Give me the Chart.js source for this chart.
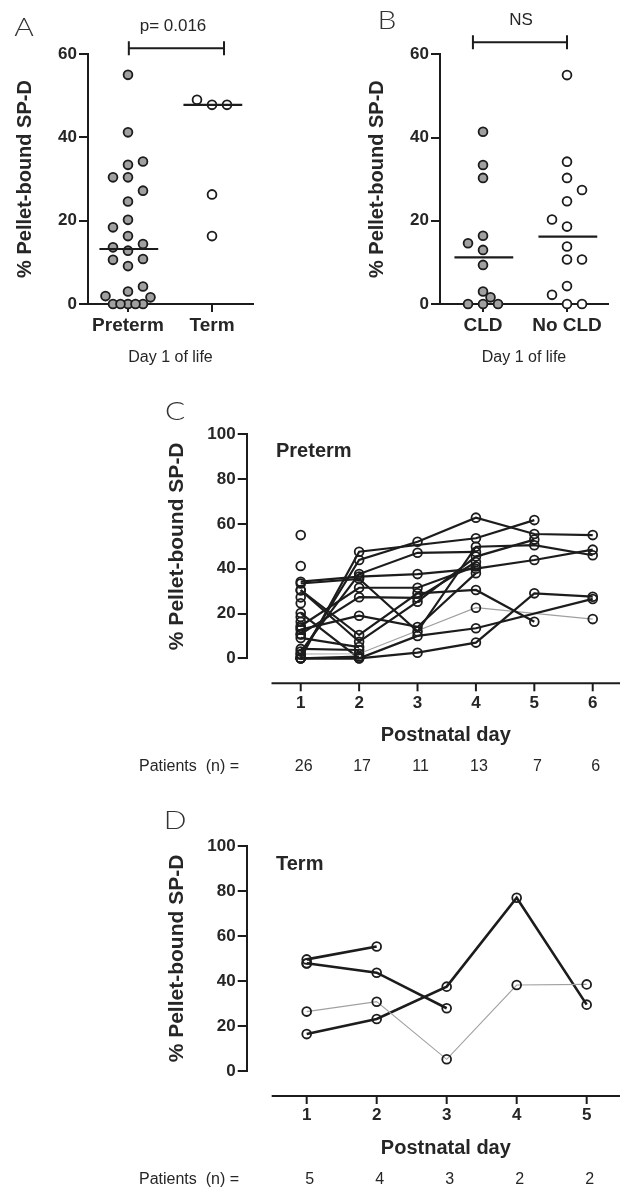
<!DOCTYPE html>
<html>
<head>
<meta charset="utf-8">
<script src="https://cdn.jsdelivr.net/npm/chart.js@4.4.1/dist/chart.umd.min.js"></script>
<style>
html,body{margin:0;padding:0;background:#fff;}
body{width:620px;height:1191px;position:relative;overflow:hidden;font-family:"Liberation Sans",Arial,Helvetica,sans-serif;color:#262626;}
canvas{position:absolute;}
.c{position:absolute;white-space:nowrap;line-height:1;transform:translate(-50%,-50%);}
.l{position:absolute;white-space:nowrap;line-height:1;transform:translate(0,-50%);}
.letter{font-family:Lato,"Open Sans","DejaVu Sans",sans-serif;font-weight:300;font-size:26px;color:#333;transform:translate(-50%,-50%) scaleX(1.15);}
.ann{font-size:17px;}
.inplot{font-weight:bold;font-size:20px;}
</style>
</head>
<body>
<canvas id="cA" width="310" height="380" style="left:0;top:0;width:310px;height:380px"></canvas>
<canvas id="cB" width="310" height="380" style="left:310px;top:0;width:310px;height:380px"></canvas>
<canvas id="cC" width="620" height="420" style="left:0;top:380px;width:620px;height:420px"></canvas>
<canvas id="cD" width="620" height="391" style="left:0;top:800px;width:620px;height:391px"></canvas>

<div class="c letter" style="left:24px;top:26px">A</div>
<div class="c letter" style="left:387px;top:19px">B</div>
<div class="c letter" style="left:175px;top:410px">C</div>
<div class="c letter" style="left:175px;top:819px">D</div>
<div class="c ann" style="left:173px;top:25px">p= 0.016</div>
<div class="c ann" style="left:521px;top:19px">NS</div>
<div class="l inplot" style="left:276px;top:450px">Preterm</div>
<div class="l inplot" style="left:276px;top:863px">Term</div>

<script>
// ---------------- DATA ----------------
const groupsA = ['Preterm', 'Term'];
const pretermDay1 = [55.0, 41.2, 34.2, 33.4, 30.4, 30.4, 27.2, 24.6, 20.2, 18.4, 16.3, 14.4, 13.6, 12.8, 10.8, 10.6, 9.1, 4.2, 3.0, 1.9, 1.6, 0, 0, 0, 0, 0];
const termDay1 = [49.0, 47.8, 47.8, 26.3, 16.3];

const groupsB = ['CLD', 'No CLD'];
const cldDay1 = [41.4, 33.4, 30.3, 16.4, 14.6, 13.0, 9.4, 3.0, 1.6, 0, 0, 0];
const noCldDay1 = [55.0, 34.2, 30.3, 27.4, 24.7, 20.3, 18.6, 13.8, 10.7, 10.7, 4.3, 2.2, 0, 0];

const yTicksAB = [0, 20, 40, 60];
const yTicksCD = [0, 20, 40, 60, 80, 100];

const pretermDays = [1, 2, 3, 4, 5, 6];
// one row per preterm patient, values for postnatal days 1..6 (null = not measured)
const pretermPatients = [
  [55.0, null, null, null, null, null],
  [41.2, null, null, null, null, null],
  [34.2, 36.5, 37.6, 40.0, 43.9, 48.5],
  [33.4, 35.5, 12.0, 49.8, 50.5, 46.0],
  [30.4, 7.4, 25.3, 45.4, 53.0, null],
  [30.4, 10.4, 29.0, 30.5, 16.3, null],
  [0, 47.6, null, 53.6, 61.7, null],
  [1.6, 43.9, 52.0, 62.8, 55.5, 55.0],
  [3.0, 37.6, 47.1, 47.5, null, null],
  [14.4, 31.5, 31.5, 41.0, null, null],
  [10.8, 27.3, 27.0, 43.0, null, null],
  [12.8, 19.0, 14.0, 38.0, null, null],
  [0, 0, 2.5, 7.0, 29.0, 27.5],
  [0, 0, 10.0, 13.4, null, 26.5],
  [0, 0.8, null, null, null, null],
  [1.9, 2.0, null, 22.6, null, 17.5],
  [4.2, 3.7, null, null, null, null],
  [9.1, 5.0, null, null, null, null],
  [20.2, 0, null, null, null, null],
  [27.2, null, null, null, null, null],
  [24.6, null, null, null, null, null],
  [18.4, null, null, null, null, null],
  [16.3, null, null, null, null, null],
  [13.6, null, null, null, null, null],
  [10.6, null, null, null, null, null],
  [0, null, null, null, null, null]
];
const pretermThinLines = [15];

const termDays = [1, 2, 3, 4, 5];
const termPatients = [
  [49.6, 55.3, null, null, null],
  [47.9, 43.7, 27.9, null, null],
  [47.8, null, null, null, null],
  [26.4, 30.8, 5.2, 38.2, 38.5],
  [16.4, 23.1, 37.5, 77.0, 29.5]
];
const termThinLines = [3];

// ---------------- STYLE / HELPERS ----------------
const INK = '#1c1c1c';
const TXT = '#262626';
const FONT = '"Liberation Sans", Arial, Helvetica, sans-serif';
Chart.defaults.font.family = FONT;
Chart.defaults.color = TXT;

function median(a) {
  const s = [...a].sort((p, q) => p - q);
  const n = s.length;
  return n % 2 ? s[(n - 1) / 2] : (s[n / 2 - 1] + s[n / 2]) / 2;
}

// simple deterministic beeswarm: columns of 7.5px, points in a column need >=12px vertical gap
function swarm(values, center, pxX, pxY) {
  const SLOT = 7.5, GAP = 12;
  const idx = values.map((v, i) => i).sort((a, b) => values[a] - values[b]);
  const placed = [];
  const out = new Array(values.length);
  let nR = 0, nL = 0;
  idx.forEach(i => {
    const v = values[i];
    const free = s => !placed.some(p => p.s === s && Math.abs(p.v - v) * pxY < GAP);
    let chosen = 0;
    const mags = [0, 2, 1, 3, 4, 5, 6, 7, 8];
    for (const m of mags) {
      if (m === 0) { if (free(0)) { chosen = 0; break; } continue; }
      const first = nR <= nL ? m : -m;
      if (free(first)) { chosen = first; break; }
      if (free(-first)) { chosen = -first; break; }
    }
    if (chosen > 0) nR++; else if (chosen < 0) nL++;
    placed.push({ s: chosen, v });
    out[i] = { x: center + chosen * SLOT / pxX, y: v };
  });
  return out;
}

const bracketPlugin = {
  id: 'bracket',
  afterDraw(chart, args, o) {
    if (!o || o.from === undefined) return;
    const { ctx, scales: { x, y } } = chart;
    const x0 = x.getPixelForValue(o.from), x1 = x.getPixelForValue(o.to), yy = y.getPixelForValue(o.at);
    ctx.save();
    ctx.strokeStyle = INK; ctx.lineWidth = 2;
    ctx.beginPath();
    ctx.moveTo(x0, yy); ctx.lineTo(x1, yy);
    ctx.moveTo(x0, yy - 7); ctx.lineTo(x0, yy + 7);
    ctx.moveTo(x1, yy - 7); ctx.lineTo(x1, yy + 7);
    ctx.stroke();
    ctx.restore();
  }
};

const offsetAxisPlugin = {
  id: 'offsetAxis',
  afterDraw(chart, args, o) {
    if (!o || o.gap === undefined) return;
    const { ctx, chartArea, scales: { x, y } } = chart;
    const ya = y.getPixelForValue(0) + o.gap;
    const xs = x.getPixelForValue(o.from);
    ctx.save();
    ctx.strokeStyle = INK; ctx.lineWidth = 2;
    ctx.beginPath(); ctx.moveTo(xs, ya); ctx.lineTo(chartArea.right, ya); ctx.stroke();
    x.ticks.forEach(t => {
      const px = x.getPixelForValue(t.value);
      ctx.beginPath(); ctx.moveTo(px, ya); ctx.lineTo(px, ya + 8); ctx.stroke();
    });
    ctx.fillStyle = TXT;
    ctx.textBaseline = 'middle';
    ctx.textAlign = 'center';
    ctx.font = 'bold 20px ' + FONT;
    ctx.fillText('Postnatal day', (xs + chartArea.right) / 2, ya + 52);
    ctx.font = '16px ' + FONT;
    ctx.textAlign = 'left';
    ctx.fillText('Patients  (n) =', 139, ya + 83.5);
    ctx.textAlign = 'center';
    o.counts.forEach((n, i) => ctx.fillText(String(n), x.getPixelForValue(o.days[i]) + 3, ya + 83.5));
    ctx.restore();
  }
};

function yAxisCommon(ticks, title, titleSize, width) {
  return {
    afterBuildTicks: s => { s.ticks = ticks.map(v => ({ value: v })); },
    ticks: { font: { weight: 'bold', size: 17 }, color: TXT, padding: 2 },
    grid: { drawOnChartArea: false, drawTicks: true, tickLength: 9, color: INK, lineWidth: 2 },
    border: { display: true, color: INK, width: 2 },
    title: { display: true, text: title, font: { weight: 'bold', size: titleSize }, color: TXT, padding: { top: 0, bottom: 0 } },
    afterFit: s => { s.width = width; }
  };
}

// ---------------- PANELS A & B ----------------
function dotPanel(id, groups, series, fills, g, bracket) {
  const pxX = (g.right - g.left) / (g.xmax - g.xmin);
  const pxY = (g.bottom - g.top) / 60;
  const datasets = [];
  series.forEach((vals, gi) => {
    datasets.push({
      order: 1, data: swarm(vals, gi, pxX, pxY), showLine: false,
      pointRadius: 4.4, pointBorderWidth: 1.8, pointBorderColor: INK,
      pointBackgroundColor: fills[gi], clip: false
    });
    const m = median(vals);
    datasets.push({
      order: 0, data: [{ x: gi - 0.34, y: m }, { x: gi + 0.36, y: m }], showLine: true,
      borderColor: INK, borderWidth: 2.2, pointRadius: 0, clip: false
    });
  });
  new Chart(document.getElementById(id), {
    type: 'scatter',
    data: { datasets },
    options: {
      responsive: false, animation: false, events: [],
      layout: { autoPadding: false, padding: { left: g.padL, right: g.padR, top: g.top, bottom: g.padB } },
      plugins: { legend: { display: false }, tooltip: { enabled: false }, bracket },
      scales: {
        x: {
          type: 'linear', min: g.xmin, max: g.xmax,
          afterBuildTicks: s => { s.ticks = groups.map((_, i) => ({ value: i })); },
          ticks: { callback: v => groups[v], font: { weight: 'bold', size: 19 }, color: TXT, padding: 2, autoSkip: false, maxRotation: 0 },
          grid: { drawOnChartArea: false, drawTicks: true, tickLength: 8, color: INK, lineWidth: 2 },
          border: { display: true, color: INK, width: 2 },
          title: { display: true, text: 'Day 1 of life', font: { size: 16 }, color: TXT, padding: { top: 0, bottom: 6.4 } },
          afterFit: s => { s.height = 70; s.paddingLeft = 0; s.paddingRight = 0; }
        },
        y: Object.assign({ min: 0, max: 60 }, yAxisCommon(yTicksAB, '% Pellet-bound SP-D', 20, 75))
      }
    },
    plugins: [bracketPlugin]
  });
}

dotPanel('cA', groupsA, [pretermDay1, termDay1], ['#a0a0a0', '#ffffff'],
  { left: 88, right: 253, top: 54, bottom: 304, xmin: -0.476, xmax: 1.488, padL: 13, padR: 57, padB: 6 },
  { from: 0.01, to: 1.143, at: 61.4 });

dotPanel('cB', groupsB, [cldDay1, noCldDay1], ['#a0a0a0', '#ffffff'],
  { left: 130, right: 298, top: 54.3, bottom: 304, xmin: -0.512, xmax: 1.488, padL: 55, padR: 12, padB: 6 },
  { from: -0.12, to: 1.0, at: 62.9 });

// ---------------- PANELS C & D ----------------
function linePanel(id, days, patients, thinIdx, g, lw) {
  const datasets = patients.map((p, i) => {
    const thin = thinIdx.includes(i);
    return {
      data: days.map((d, k) => ({ x: d, y: p[k] })).filter(q => q.y !== null),
      showLine: true, tension: 0,
      borderColor: thin ? '#a0a0a0' : INK, borderWidth: thin ? 1.1 : lw,
      pointRadius: 4.4, pointBorderWidth: 1.8, pointBorderColor: INK,
      pointBackgroundColor: 'rgba(255,255,255,0)', clip: false
    };
  });
  const counts = days.map((d, k) => patients.filter(p => p[k] !== null).length);
  new Chart(document.getElementById(id), {
    type: 'scatter',
    data: { datasets },
    options: {
      responsive: false, animation: false, events: [],
      layout: { autoPadding: false, padding: { left: g.padL, right: 0, top: g.top, bottom: g.padB } },
      plugins: { legend: { display: false }, tooltip: { enabled: false },
        offsetAxis: { gap: 25, from: 0.5, counts, days } },
      scales: {
        x: {
          type: 'linear', min: g.xmin, max: g.xmax,
          afterBuildTicks: s => { s.ticks = days.map(v => ({ value: v })); },
          ticks: { font: { weight: 'bold', size: 17 }, color: TXT, padding: 34.5, autoSkip: false, maxRotation: 0 },
          grid: { display: false, drawTicks: false },
          border: { display: false },
          afterFit: s => { s.height = 100; s.paddingLeft = 0; s.paddingRight = 0; }
        },
        y: Object.assign({ min: 0, max: 100 }, yAxisCommon(yTicksCD, '% Pellet-bound SP-D', 21, 82))
      }
    },
    plugins: [offsetAxisPlugin]
  });
}

linePanel('cC', pretermDays, pretermPatients, pretermThinLines,
  { top: 54.3, bottom: 278.3, xmin: 0.075, xmax: 6.467, padL: 164.7, padB: 41.7 }, 2.2);

linePanel('cD', termDays, termPatients, termThinLines,
  { top: 46, bottom: 271, xmin: 0.143, xmax: 5.476, padL: 164.7, padB: 20 }, 2.6);
</script>
</body>
</html>
